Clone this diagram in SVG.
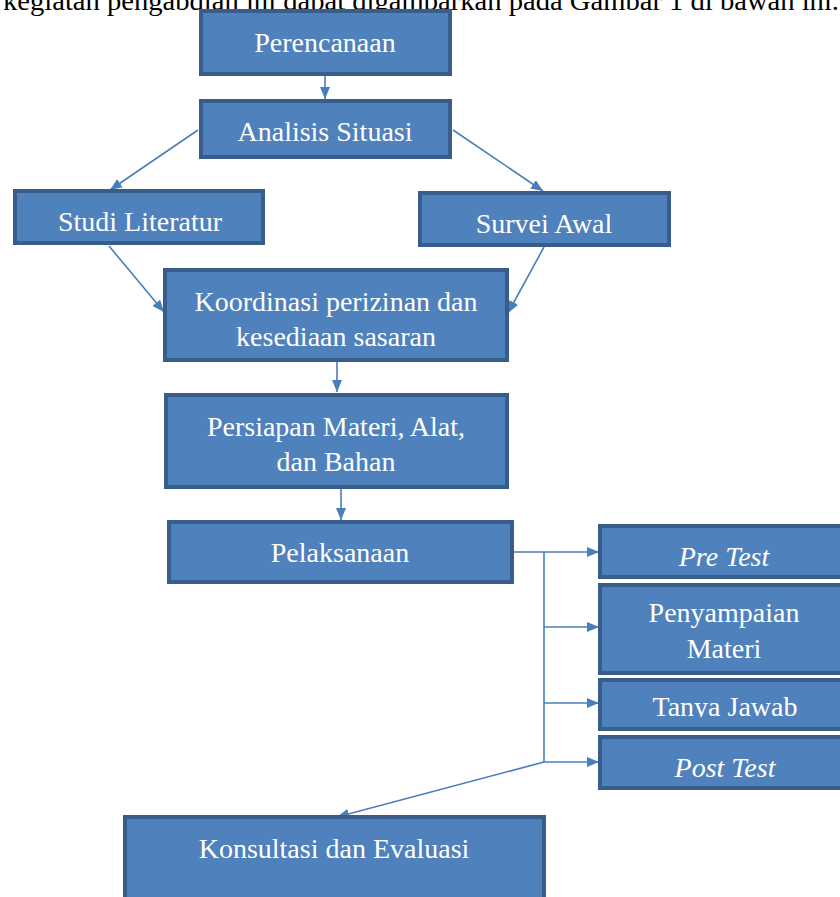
<svg xmlns="http://www.w3.org/2000/svg" width="840" height="897" viewBox="0 0 840 897">
<style>
.box{fill:#4F81BD;stroke:#385D8A;stroke-width:4}
.t{font-family:"Liberation Serif","Times New Roman",serif;font-size:28px;fill:#FFFFFF;text-anchor:middle}
.i{font-style:italic}
.c{fill:none;stroke:#4A7EBB;stroke-width:1.6}
.hdr{font-family:"Liberation Serif","Times New Roman",serif;font-size:28px;fill:#000000}
</style>
<defs>
<marker id="ah" viewBox="0 0 12 10" refX="12" refY="5" markerWidth="12" markerHeight="10" markerUnits="userSpaceOnUse" orient="auto">
<path d="M0,0 L12,5 L0,10 Z" fill="#4A7EBB"/>
</marker>
<clipPath id="cl"><rect x="600" y="680" width="240" height="37"/></clipPath>
</defs>
<text class="hdr" x="3" y="10" textLength="836" lengthAdjust="spacingAndGlyphs">kegiatan pengabdian ini dapat digambarkan pada Gambar 1 di bawah ini.</text>
<g id="connectors">
<line class="c" x1="325" y1="76" x2="325" y2="99" marker-end="url(#ah)"/>
<line class="c" x1="198" y1="130" x2="110" y2="190" marker-end="url(#ah)"/>
<line class="c" x1="453" y1="130" x2="543" y2="191" marker-end="url(#ah)"/>
<line class="c" x1="109" y1="246" x2="164" y2="312" marker-end="url(#ah)"/>
<line class="c" x1="544" y1="247" x2="508" y2="313" marker-end="url(#ah)"/>
<line class="c" x1="337" y1="362" x2="337" y2="392" marker-end="url(#ah)"/>
<line class="c" x1="341" y1="489" x2="341" y2="520" marker-end="url(#ah)"/>
<line class="c" x1="513" y1="552" x2="599" y2="552" marker-end="url(#ah)"/>
<line class="c" x1="544" y1="552" x2="544" y2="762"/>
<line class="c" x1="544" y1="627" x2="599" y2="627" marker-end="url(#ah)"/>
<line class="c" x1="544" y1="703" x2="599" y2="703" marker-end="url(#ah)"/>
<line class="c" x1="544" y1="762" x2="599" y2="762" marker-end="url(#ah)"/>
<line class="c" x1="544" y1="762" x2="337" y2="817" marker-end="url(#ah)"/>
</g>
<g id="perencanaan"><rect class="box" x="201" y="11" width="249" height="63"/><text class="t" x="325" y="52">Perencanaan</text></g>
<g id="analisis"><rect class="box" x="201" y="101" width="249" height="56"/><text class="t" x="325" y="141">Analisis Situasi</text></g>
<g id="studi"><rect class="box" x="15" y="191" width="248" height="52"/><text class="t" x="140" y="231">Studi Literatur</text></g>
<g id="survei"><rect class="box" x="420" y="193" width="249" height="52"/><text class="t" x="544" y="233">Survei Awal</text></g>
<g id="koordinasi"><rect class="box" x="165" y="270" width="342" height="90"/><text class="t" x="336" y="311">Koordinasi perizinan dan</text><text class="t" x="336" y="346">kesediaan sasaran</text></g>
<g id="persiapan"><rect class="box" x="166" y="395" width="341" height="92"/><text class="t" x="336" y="436">Persiapan Materi, Alat,</text><text class="t" x="336" y="471">dan Bahan</text></g>
<g id="pelaksanaan"><rect class="box" x="169" y="522" width="343" height="60"/><text class="t" x="340" y="562">Pelaksanaan</text></g>
<g id="pretest"><rect class="box" x="600" y="526" width="250" height="51"/><text class="t i" x="724" y="566">Pre Test</text></g>
<g id="penyampaian"><rect class="box" x="600" y="585" width="250" height="88"/><text class="t" x="724" y="622">Penyampaian</text><text class="t" x="724" y="658">Materi</text></g>
<g id="tanyajawab"><rect class="box" x="600" y="680" width="250" height="49"/><text class="t" x="725" y="716" clip-path="url(#cl)">Tanya Jawab</text></g>
<g id="posttest"><rect class="box" x="600" y="737" width="250" height="51"/><text class="t i" x="725" y="777">Post Test</text></g>
<g id="konsultasi"><rect class="box" x="125" y="817" width="419" height="100"/><text class="t" x="334" y="858">Konsultasi dan Evaluasi</text></g>
</svg>
